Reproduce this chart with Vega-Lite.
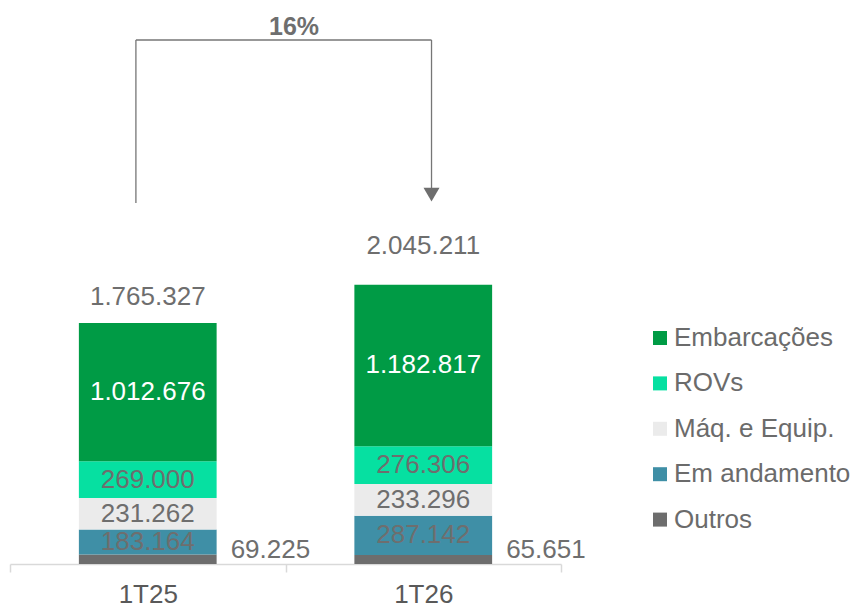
{
  "$schema": "https://vega.github.io/schema/vega-lite/v6.json",
  "width": 551,
  "height": 564,
  "autosize": {"type": "none"},
  "padding": {"left": 10, "top": 0, "right": 296, "bottom": 44},
  "background": "white",
  "config": {
    "view": {"stroke": null},
    "font": "Liberation Sans",
    "locale": {"number": {"decimal": ",", "thousands": ".", "grouping": [3], "currency": ["R$", ""]}}
  },
  "datasets": {
    "parcelas": [
      {"categoria": "1T25", "serie": "Outros", "ordem": 1, "valor": 69225},
      {"categoria": "1T25", "serie": "Em andamento", "ordem": 2, "valor": 183164},
      {"categoria": "1T25", "serie": "Máq. e Equip.", "ordem": 3, "valor": 231262},
      {"categoria": "1T25", "serie": "ROVs", "ordem": 4, "valor": 269000},
      {"categoria": "1T25", "serie": "Embarcações", "ordem": 5, "valor": 1012676},
      {"categoria": "1T26", "serie": "Outros", "ordem": 1, "valor": 65651},
      {"categoria": "1T26", "serie": "Em andamento", "ordem": 2, "valor": 287142},
      {"categoria": "1T26", "serie": "Máq. e Equip.", "ordem": 3, "valor": 233296},
      {"categoria": "1T26", "serie": "ROVs", "ordem": 4, "valor": 276306},
      {"categoria": "1T26", "serie": "Embarcações", "ordem": 5, "valor": 1182817}
    ],
    "totais": [
      {"categoria": "1T25", "total": 1765327},
      {"categoria": "1T26", "total": 2045211}
    ],
    "variacao": [
      {"de": "1T25", "para": "1T26", "texto": "16%"}
    ]
  },
  "layer": [
    {
      "data": {"name": "parcelas"},
      "transform": [
        {"stack": "valor", "groupby": ["categoria"], "sort": [{"field": "ordem", "order": "ascending"}], "as": ["base", "topo"]}
      ],
      "mark": {"type": "bar", "width": {"band": 0.5}},
      "encoding": {
        "x": {
          "field": "categoria", "type": "nominal", "title": null,
          "scale": {"type": "band", "domain": ["1T25", "1T26"], "paddingInner": 0, "paddingOuter": 0},
          "axis": {
            "title": null, "domainColor": "#d9d9d9", "domainWidth": 1.5,
            "tickColor": "#d9d9d9", "tickWidth": 1.5, "tickSize": 8, "tickBand": "extent",
            "labelFontSize": 26, "labelColor": "#595959", "labelPadding": 9, "labelAngle": 0,
            "labelFont": "Liberation Sans", "grid": false
          }
        },
        "y": {"field": "base", "type": "quantitative", "scale": {"domain": [0, 4130000], "nice": false, "zero": true}, "axis": null},
        "y2": {"field": "topo"},
        "color": {
          "field": "serie", "type": "nominal",
          "scale": {
            "domain": ["Embarcações", "ROVs", "Máq. e Equip.", "Em andamento", "Outros"],
            "range": ["#009b45", "#06e0a1", "#ebebeb", "#3f8fa6", "#6d6d6d"]
          },
          "legend": {
            "orient": "none", "legendX": 637, "legendY": 325, "title": null,
            "symbolType": "square", "symbolSize": 196, "symbolStrokeWidth": 0,
            "labelFontSize": 26, "labelColor": "#6b6b6b", "labelOffset": 1, "rowPadding": 19.4,
            "labelFont": "Liberation Sans", "labelLimit": 400
          }
        }
      }
    },
    {
      "data": {"name": "parcelas"},
      "transform": [
        {"stack": "valor", "groupby": ["categoria"], "sort": [{"field": "ordem", "order": "ascending"}], "as": ["base", "topo"]},
        {"filter": "datum.serie !== 'Outros'"},
        {"calculate": "(datum.base + datum.topo) / 2", "as": "meio"}
      ],
      "mark": {"type": "text", "fontSize": 26, "baseline": "middle", "align": "center"},
      "encoding": {
        "x": {"field": "categoria", "type": "nominal", "title": null},
        "y": {"field": "meio", "type": "quantitative"},
        "text": {"field": "valor", "type": "quantitative", "format": ",.0f"},
        "color": {"condition": {"test": "datum.serie === 'Embarcações'", "value": "#ffffff"}, "value": "#6e6e6e"}
      }
    },
    {
      "data": {"name": "parcelas"},
      "transform": [
        {"stack": "valor", "groupby": ["categoria"], "sort": [{"field": "ordem", "order": "ascending"}], "as": ["base", "topo"]},
        {"filter": "datum.serie === 'Outros'"}
      ],
      "mark": {"type": "text", "fontSize": 26, "baseline": "middle", "align": "left", "dx": 14, "dy": -5, "color": "#6e6e6e"},
      "encoding": {
        "x": {"field": "categoria", "type": "nominal", "bandPosition": 0.75, "title": null},
        "y": {"field": "topo", "type": "quantitative"},
        "text": {"field": "valor", "type": "quantitative", "format": ",.0f"}
      }
    },
    {
      "data": {"name": "totais"},
      "transform": [{"filter": "datum.categoria === '1T25'"}],
      "mark": {"type": "text", "fontSize": 26, "baseline": "middle", "align": "center", "dy": -26, "color": "#6e6e6e"},
      "encoding": {
        "x": {"field": "categoria", "type": "nominal", "title": null},
        "y": {"field": "total", "type": "quantitative"},
        "text": {"field": "total", "type": "quantitative", "format": ",.0f"}
      }
    },
    {
      "data": {"name": "totais"},
      "transform": [{"filter": "datum.categoria === '1T26'"}],
      "mark": {"type": "text", "fontSize": 26, "baseline": "middle", "align": "center", "dy": -39, "color": "#6e6e6e"},
      "encoding": {
        "x": {"field": "categoria", "type": "nominal", "title": null},
        "y": {"field": "total", "type": "quantitative"},
        "text": {"field": "total", "type": "quantitative", "format": ",.0f"}
      }
    },
    {
      "data": {"name": "variacao"},
      "mark": {"type": "rule", "color": "#767676", "strokeWidth": 1.3},
      "encoding": {
        "x": {"field": "de", "type": "nominal", "bandPosition": 0.457, "title": null},
        "y": {"datum": 2643500, "type": "quantitative"},
        "y2": {"datum": 3837000}
      }
    },
    {
      "data": {"name": "variacao"},
      "mark": {"type": "rule", "color": "#767676", "strokeWidth": 1.3},
      "encoding": {
        "x": {"field": "de", "type": "nominal", "bandPosition": 0.457, "title": null},
        "x2": {"field": "para", "bandPosition": 0.53},
        "y": {"datum": 3837000, "type": "quantitative"}
      }
    },
    {
      "data": {"name": "variacao"},
      "mark": {"type": "rule", "color": "#767676", "strokeWidth": 1.3},
      "encoding": {
        "x": {"field": "para", "type": "nominal", "bandPosition": 0.53, "title": null},
        "y": {"datum": 2740000, "type": "quantitative"},
        "y2": {"datum": 3837000}
      }
    },
    {
      "data": {"name": "variacao"},
      "mark": {"type": "point", "shape": "triangle-down", "filled": true, "size": 256, "color": "#6e6e6e", "opacity": 1},
      "encoding": {
        "x": {"field": "para", "type": "nominal", "bandPosition": 0.53, "title": null},
        "y": {"datum": 2705000, "type": "quantitative"}
      }
    },
    {
      "data": {"name": "variacao"},
      "mark": {"type": "text", "fontSize": 25, "fontWeight": "bold", "baseline": "middle", "align": "center", "color": "#6e6e6e"},
      "encoding": {
        "x": {"field": "para", "type": "nominal", "bandPosition": 0.031, "title": null},
        "y": {"datum": 3932000, "type": "quantitative"},
        "text": {"field": "texto"}
      }
    }
  ]
}
